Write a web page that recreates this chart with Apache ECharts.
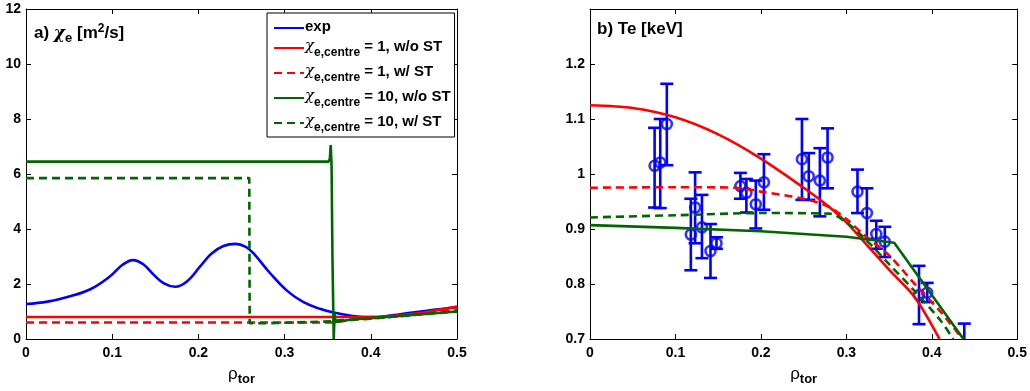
<!DOCTYPE html>
<html>
<head>
<meta charset="utf-8">
<script src="https://cdn.jsdelivr.net/npm/echarts@6/dist/echarts.min.js"></script>
<style>
html,body{margin:0;padding:0;background:#fff;}
#c{width:1030px;height:391px;}
</style>
</head>
<body>
<div id="c"></div>
<script>
// ---------- Data ----------
var seriesNames = ['exp', 'χe,centre = 1, w/o ST', 'χe,centre = 1, w/ ST', 'χe,centre = 10, w/o ST', 'χe,centre = 10, w/ ST'];

// Panel a) chi_e [m^2/s] vs rho_tor
var chiExp = [[0,1.27],[0.025,1.36],[0.047,1.52],[0.074,1.8],[0.0975,2.28],[0.112,2.7],[0.124,2.87],[0.136,2.72],[0.148,2.34],[0.16,2.02],[0.173,1.9],[0.187,2.1],[0.202,2.64],[0.215,3.1],[0.229,3.38],[0.243,3.46],[0.255,3.35],[0.264,3.11],[0.283,2.4],[0.303,1.75],[0.322,1.34],[0.341,1.1],[0.357,0.96],[0.376,0.85],[0.396,0.8],[0.415,0.82],[0.434,0.9],[0.453,0.98],[0.473,1.06],[0.5,1.16]];
var chiC1noST = [[0,0.8],[0.39,0.8],[0.41,0.8],[0.43,0.85],[0.46,0.95],[0.5,1.18]];
var chiC1ST = [[0,0.6],[0.355,0.6],[0.356,0.66],[0.38,0.7],[0.4,0.74],[0.43,0.82],[0.46,0.92],[0.5,1.08]];
var chiC10noST = [[0,6.45],[0.351,6.45],[0.3525,6.55],[0.3535,7.05],[0.3545,6.3],[0.3555,3.0],[0.357,0],[0.358,0.9],[0.359,0.62],[0.361,0.68],[0.38,0.72],[0.4,0.76],[0.43,0.83],[0.46,0.9],[0.5,1.0]];
var chiC10ST = [[0,5.85],[0.259,5.85],[0.2595,0.57],[0.29,0.58],[0.33,0.62],[0.355,0.64],[0.358,0.67],[0.38,0.71],[0.4,0.75],[0.43,0.82],[0.46,0.9],[0.5,1.0]];

// Panel b) Te [keV] vs rho_tor
var teC1noST = [[0,1.125],[0.05,1.12],[0.1,1.103],[0.15,1.072],[0.2,1.028],[0.25,0.975],[0.28,0.94],[0.3,0.912],[0.32,0.878],[0.35,0.826],[0.38,0.776],[0.409,0.7]];
var teC1ST = [[0,0.975],[0.1,0.976],[0.17,0.975],[0.2,0.968],[0.25,0.955],[0.28,0.94],[0.3,0.918],[0.32,0.89],[0.35,0.852],[0.38,0.8],[0.41,0.75],[0.436,0.7]];
var teC10noST = [[0,0.907],[0.1,0.902],[0.2,0.896],[0.3,0.886],[0.356,0.875],[0.437,0.7]];
var teC10ST = [[0,0.921],[0.1,0.925],[0.2,0.929],[0.28,0.928],[0.3,0.912],[0.32,0.885],[0.35,0.836],[0.38,0.787],[0.41,0.734],[0.425,0.7]];
// measured Te: [rho, value, low, high]
var teExp = [
  [0.0756,1.015,0.939,1.084],[0.0822,1.021,0.938,1.100],[0.0899,1.091,1.016,1.164],
  [0.118,0.890,0.825,0.955],[0.123,0.939,0.874,1.003],[0.131,0.903,0.847,0.962],
  [0.141,0.860,0.811,0.909],[0.148,0.874,0.864,0.885],
  [0.176,0.978,0.955,1.002],[0.183,0.966,0.930,0.991],[0.194,0.945,0.901,0.988],[0.2035,0.985,0.935,1.036],
  [0.248,1.027,0.953,1.100],[0.256,0.996,0.953,1.038],[0.269,0.988,0.923,1.047],[0.278,1.030,0.974,1.083],
  [0.313,0.968,0.929,1.008],[0.324,0.929,0.882,0.974],[0.335,0.891,0.864,0.915],[0.345,0.877,0.849,0.904],
  [0.385,0.780,0.727,0.833],[0.3946,0.784,0.767,0.802],[0.438,0.680,0.630,0.728]
];

var xTicks = [0, 0.1, 0.2, 0.3, 0.4, 0.5];

// ---------- Chart ----------
var BLUE = '#0000ff', RED = '#ff0000', GREEN = '#006600';
var FONT = '"Liberation Sans", Arial, Helvetica, sans-serif';
var LW = 2.6, DASH = [8, 5];

function fmtNum(v){ var r = Math.round(v*10)/10; return String(r); }

var baseLabel = {color:'#000', fontFamily:FONT, fontWeight:'bold', fontSize:14};
var nameRich = {
  r:{fontFamily:FONT, fontSize:17, color:'#000', padding:[0,0,0,0]},
  s:{fontFamily:FONT, fontSize:13, fontWeight:'bold', color:'#000', padding:[10,0,0,0]}
};

function mkX(gi, show){
  return {
    type:'value', gridIndex:gi, min:0, max:0.5, interval:0.1,
    position: show ? 'bottom' : 'top',
    axisLine:{show:true, onZero:false, lineStyle:{color:'#000', width:1}},
    axisTick:{show:true, inside:true, length:5, lineStyle:{color:'#000'}},
    axisLabel:{show:show, margin:7, formatter:fmtNum, ...baseLabel},
    splitLine:{show:false},
    name: show ? '{r|ρ}{s|tor}' : '', nameLocation:'middle', nameGap:24,
    nameTextStyle:{rich:nameRich}
  };
}
function mkY(gi, show, min, max, interval, hideMax){
  return {
    type:'value', gridIndex:gi, min:min, max:max, interval:interval,
    position: show ? 'left' : 'right',
    axisLine:{show:true, onZero:false, lineStyle:{color:'#000', width:1}},
    axisTick:{show:true, inside:true, length:5, lineStyle:{color:'#000'}},
    axisLabel:{show:show, margin:5, showMaxLabel: !hideMax, formatter:fmtNum, ...baseLabel},
    splitLine:{show:false}
  };
}

function lineSeries(name, data, color, dashed, xi, yi, smooth){
  return {
    type:'line', name:name, data:data, xAxisIndex:xi, yAxisIndex:yi,
    symbol:'none', showSymbol:false, smooth: smooth || false, animation:false, clip:true,
    lineStyle:{color:color, width:LW, type: dashed ? DASH : 'solid'},
    itemStyle:{color:color}
  };
}

var legendRich = {
  n:{fontFamily:FONT, fontSize:15, fontWeight:'bold', color:'#000', lineHeight:18, verticalAlign:'top'},
  c:{fontFamily:'"DejaVu Serif", serif', fontStyle:'italic', fontSize:15, color:'#000', lineHeight:18, verticalAlign:'top'},
  s:{fontFamily:FONT, fontSize:12, fontWeight:'bold', color:'#000', lineHeight:16, padding:[8,0,0,0], verticalAlign:'top'}
};
function legendFmt(name){
  if (name.charAt(0) !== 'χ') return '{n|' + name + '}';
  var i = name.indexOf(' ');
  var sub = name.substring(1, i);
  var rest = name.substring(i);
  return '{c|χ}{s|' + sub + '}{n|' + rest + '}';
}

var chart = echarts.init(document.getElementById('c'), null, {renderer:'canvas'});
var option = {
  backgroundColor:'#fff',
  animation:false,
  grid:[
    {left:26, top:9, right:573, bottom:43, containLabel:false, show:false},
    {left:590, top:9, right:10, bottom:44, containLabel:false, show:false}
  ],
  xAxis:[ mkX(0,true), mkX(0,false), mkX(1,true), mkX(1,false) ],
  yAxis:[
    mkY(0,true,0,12,2,false), mkY(0,false,0,12,2,false),
    mkY(1,true,0.7,1.3,0.1,true), mkY(1,false,0.7,1.3,0.1,true)
  ],
  title:[
    {left:29, top:17, text:'{a|a) }{c|χ}{s|e}{a| [m}{p|2}{a|/s]}',
      textStyle:{rich:{
        a:{fontFamily:FONT, fontSize:17, fontWeight:'bold', color:'#000'},
        c:{fontFamily:'"DejaVu Serif", serif', fontStyle:'italic', fontSize:17, color:'#000'},
        s:{fontFamily:FONT, fontSize:13, fontWeight:'bold', color:'#000', padding:[10,0,0,0]},
        p:{fontFamily:FONT, fontSize:12, fontWeight:'bold', color:'#000', padding:[0,0,9,0]}
      }}},
    {left:592, top:16, text:'b) Te [keV]',
      textStyle:{fontFamily:FONT, fontSize:17, fontWeight:'bold', color:'#000'}}
  ],
  legend:{
    data: seriesNames, orient:'vertical', left:267, top:13,
    padding:[6,4,3,6], itemGap:5, itemWidth:30, itemHeight:14,
    borderColor:'#000', borderWidth:1, backgroundColor:'#fff',
    formatter: legendFmt, selectedMode:false,
    itemStyle:{color:'rgba(0,0,0,0)', borderColor:'rgba(0,0,0,0)', borderWidth:0, opacity:0},
    textStyle:{rich:legendRich, padding:[0,0,0,-4]}
  },
  series:[
    lineSeries(seriesNames[0], chiExp, BLUE, false, 0, 0, 0.4),
    lineSeries(seriesNames[1], chiC1noST, RED, false, 0, 0),
    lineSeries(seriesNames[2], chiC1ST, RED, true, 0, 0),
    lineSeries(seriesNames[3], chiC10noST, GREEN, false, 0, 0),
    lineSeries(seriesNames[4], chiC10ST, GREEN, true, 0, 0),
    lineSeries(seriesNames[1], teC1noST, RED, false, 2, 2, 0.3),
    lineSeries(seriesNames[2], teC1ST, RED, true, 2, 2, 0.3),
    lineSeries(seriesNames[3], teC10noST, GREEN, false, 2, 2),
    lineSeries(seriesNames[4], teC10ST, GREEN, true, 2, 2, 0.3),
    {
      type:'custom', name:'exp', xAxisIndex:2, yAxisIndex:2, clip:true,
      data: teExp,
      renderItem:function(params, api){
        var x = api.value(0);
        var top = api.coord([x, api.value(3)]);
        var bot = api.coord([x, api.value(2)]);
        var hw = 6.5;
        var st = {stroke:BLUE, lineWidth:2.6, fill:null};
        return {type:'group', children:[
          {type:'line', shape:{x1:top[0], y1:top[1], x2:bot[0], y2:bot[1]}, style:st},
          {type:'line', shape:{x1:top[0]-hw, y1:top[1], x2:top[0]+hw, y2:top[1]}, style:st},
          {type:'line', shape:{x1:bot[0]-hw, y1:bot[1], x2:bot[0]+hw, y2:bot[1]}, style:st}
        ]};
      }
    },
    {
      type:'scatter', name:'exp', xAxisIndex:2, yAxisIndex:2, clip:true,
      data: teExp.map(function(d){ return [d[0], d[1]]; }),
      symbol:'circle', symbolSize:10,
      itemStyle:{color:'rgba(0,0,0,0)', borderColor:BLUE, borderWidth:2.6}
    }
  ]
};
chart.setOption(option);
</script>
</body>
</html>
